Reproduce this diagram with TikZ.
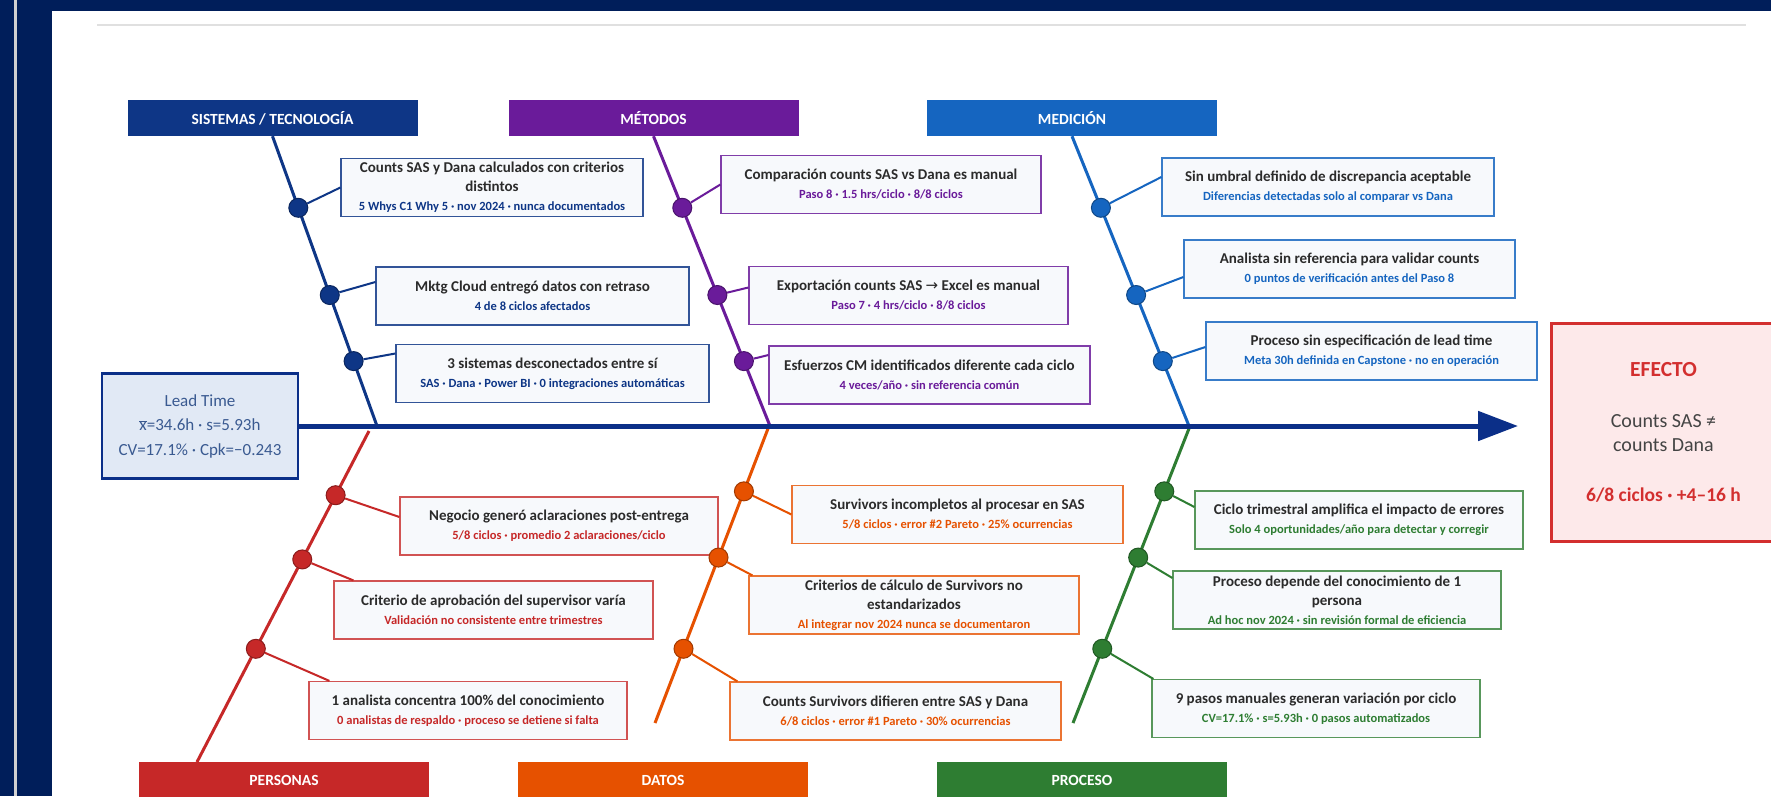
\documentclass[tikz,border=0pt]{standalone}
\usepackage{fontspec}
\setmainfont{Carlito}
\newfontfamily\arrowfont{DejaVu Sans}
\usetikzlibrary{arrows.meta,calc}

\definecolor{framenavy}{HTML}{001E5A}
\definecolor{sisC}{HTML}{0E3686}
\definecolor{metC}{HTML}{6A1B9A}
\definecolor{medC}{HTML}{1565C0}
\definecolor{perC}{HTML}{C62828}
\definecolor{datC}{HTML}{E65100}
\definecolor{proC}{HTML}{2E7D32}
\definecolor{spineC}{HTML}{0B2F88}
\definecolor{boxfill}{HTML}{F7F9FC}
\definecolor{maintext}{HTML}{2B2B2B}
\definecolor{leadfill}{HTML}{E1E9F5}
\definecolor{leadtext}{HTML}{3A5A91}
\definecolor{effill}{HTML}{FDE9EA}
\definecolor{efred}{HTML}{D32F2F}
\definecolor{eftext}{HTML}{444444}

\tikzstyle{header} = [minimum width=290pt, minimum height=36pt, inner sep=0pt, text=white, font=\bfseries\fontsize{15.5}{17}\selectfont]
\tikzstyle{cause} = [draw, line width=1.2pt, fill=boxfill, minimum height=58pt, inner sep=2pt, align=center, text=maintext, font=\bfseries\fontsize{15}{19}\selectfont]
\tikzstyle{bone} = [line width=3pt]
\tikzstyle{twig} = [line width=2pt]
\tikzstyle{knot} = [circle, minimum size=19pt, inner sep=0pt, line width=1pt]
\tikzstyle{spine} = [line width=5pt, draw=spineC, -{Triangle[length=40pt,width=29pt]}]

\newcommand{\detail}[2]{{\color{#1}\fontsize{12.5}{19}\selectfont #2}}
\newcommand{\xbar}{$\overline{\hbox{x}}$}

\begin{document}
\begin{tikzpicture}[x=1pt,y=-1pt]
\useasboundingbox (0,0) rectangle (1771,796);

% Frame
\fill[framenavy] (0,0) rectangle (1771,796);
\fill[white] (52,11) rectangle (1771,796);
\draw[line width=3pt, color=black!18] (15,0) -- (15,796);
\draw[line width=2.5pt, color=black!12] (97,25) -- (1746,25);

% Headers
\node[header, fill=sisC] (sish) at (272.5,118) {SISTEMAS / TECNOLOGÍA};
\node[header, fill=metC] (meth) at (653.5,118) {MÉTODOS};
\node[header, fill=medC] (medh) at (1072,118) {MEDICIÓN};
\node[header, fill=perC] (perh) at (284,780) {PERSONAS};
\node[header, fill=datC] (dath) at (663,780) {DATOS};
\node[header, fill=proC] (proh) at (1082,780) {PROCESO};

% Bone ends
\coordinate (siss) at (377,426);
\coordinate (mets) at (770,426);
\coordinate (meds) at (1189,426);
\coordinate (pers) at (369,431);
\coordinate (pere) at (197,762);
\coordinate (dats) at (769,426);
\coordinate (date) at (655,723);
\coordinate (pros) at (1190,426);
\coordinate (proe) at (1073,723);
\coordinate (tip) at (1518,426);

% Bones
\draw[bone, sisC] (sish.south) -- (siss);
\draw[bone, metC] (meth.south) -- (mets);
\draw[bone, medC] (medh.south) -- (meds);
\draw[bone, perC] (pers) -- (pere);
\draw[bone, datC] (dats) -- (date);
\draw[bone, proC] (pros) -- (proe);

% Lead time and spine
\node[draw=spineC, line width=2.5pt, fill=leadfill, minimum width=196pt, minimum height=105pt, align=center, text=leadtext, font=\fontsize{17}{24.5}\selectfont] (lead) at (200,426) {Lead Time\\\xbar=34.6h · s=5.93h\\CV=17.1\% · Cpk=−0.243};
\draw[spine] (lead.east) -- (tip);

% Effect
\node[draw=efred, line width=3pt, fill=effill, minimum width=225pt, minimum height=218pt, align=center, text=eftext, font=\fontsize{20}{24}\selectfont] (efecto) at (1663.5,432) {{\color{efred}\bfseries\fontsize{21.5}{24}\selectfont EFECTO}\\[27pt]Counts SAS ≠\\counts Dana\\[26pt]{\color{efred}\bfseries\fontsize{19.5}{24}\selectfont 6/8 ciclos · +4–16 h}};

% Sistemas / tecnologia
\node[cause, draw=sisC!85!white, minimum width=302pt] (s1) at (492,187.5) {Counts SAS y Dana calculados con criterios\\distintos\\\detail{sisC}{5 Whys C1 Why 5 · nov 2024 · nunca documentados}};
\node[cause, draw=sisC!85!white, minimum width=313pt] (s2) at (532.5,296) {Mktg Cloud entregó datos con retraso\\\detail{sisC}{4 de 8 ciclos afectados}};
\node[cause, draw=sisC!85!white, minimum width=313pt] (s3) at (552.5,373.5) {3 sistemas desconectados entre sí\\\detail{sisC}{SAS · Dana · Power BI · 0 integraciones automáticas}};

% Metodos
\node[cause, draw=metC!85!white, minimum width=320pt] (m1) at (881,184.5) {Comparación counts SAS vs Dana es manual\\\detail{metC}{Paso 8 · 1.5 hrs/ciclo · 8/8 ciclos}};
\node[cause, draw=metC!85!white, minimum width=319pt] (m2) at (908.5,295.5) {Exportación counts SAS {\arrowfont\mdseries →} Excel es manual\\\detail{metC}{Paso 7 · 4 hrs/ciclo · 8/8 ciclos}};
\node[cause, draw=metC!85!white, minimum width=321pt] (m3) at (929.5,375) {Esfuerzos CM identificados diferente cada ciclo\\\detail{metC}{4 veces/año · sin referencia común}};

% Medicion
\node[cause, draw=medC!85!white, minimum width=332pt] (e1) at (1328,187) {Sin umbral definido de discrepancia aceptable\\\detail{medC}{Diferencias detectadas solo al comparar vs Dana}};
\node[cause, draw=medC!85!white, minimum width=331pt] (e2) at (1349.5,269) {Analista sin referencia para validar counts\\\detail{medC}{0 puntos de verificación antes del Paso 8}};
\node[cause, draw=medC!85!white, minimum width=331pt] (e3) at (1371.5,351) {Proceso sin especificación de lead time\\\detail{medC}{Meta 30h definida en Capstone · no en operación}};

% Personas
\node[cause, draw=perC!80!white, minimum width=318pt] (p1) at (559,526) {Negocio generó aclaraciones post-entrega\\\detail{perC}{5/8 ciclos · promedio 2 aclaraciones/ciclo}};
\node[cause, draw=perC!80!white, minimum width=319pt] (p2) at (493.5,610) {Criterio de aprobación del supervisor varía\\\detail{perC}{Validación no consistente entre trimestres}};
\node[cause, draw=perC!80!white, minimum width=318pt] (p3) at (468,710.5) {1 analista concentra 100\% del conocimiento\\\detail{perC}{0 analistas de respaldo · proceso se detiene si falta}};

% Datos
\node[cause, draw=datC!80!white, minimum width=331pt] (a1) at (957.5,514.5) {Survivors incompletos al procesar en SAS\\\detail{datC}{5/8 ciclos · error \#2 Pareto · 25\% ocurrencias}};
\node[cause, draw=datC!80!white, minimum width=330pt] (a2) at (914,605) {Criterios de cálculo de Survivors no\\estandarizados\\\detail{datC}{Al integrar nov 2024 nunca se documentaron}};
\node[cause, draw=datC!80!white, minimum width=331pt] (a3) at (895.5,711) {Counts Survivors difieren entre SAS y Dana\\\detail{datC}{6/8 ciclos · error \#1 Pareto · 30\% ocurrencias}};

% Proceso
\node[cause, draw=proC!80!white, minimum width=328pt] (r1) at (1359,520) {Ciclo trimestral amplifica el impacto de errores\\\detail{proC}{Solo 4 oportunidades/año para detectar y corregir}};
\node[cause, draw=proC!80!white, minimum width=328pt] (r2) at (1337,600) {Proceso depende del conocimiento de 1\\persona\\\detail{proC}{Ad hoc nov 2024 · sin revisión formal de eficiencia}};
\node[cause, draw=proC!80!white, minimum width=328pt] (r3) at (1316,708.5) {9 pasos manuales generan variación por ciclo\\\detail{proC}{CV=17.1\% · s=5.93h · 0 pasos automatizados}};

% Dots on bones
\node[knot, fill=sisC, draw=sisC!70!black] (sd1) at ($(sish.south)!0.247!(siss)$) {};
\node[knot, fill=sisC, draw=sisC!70!black] (sd2) at ($(sish.south)!0.548!(siss)$) {};
\node[knot, fill=sisC, draw=sisC!70!black] (sd3) at ($(sish.south)!0.776!(siss)$) {};
\node[knot, fill=metC, draw=metC!70!black] (md1) at ($(meth.south)!0.247!(mets)$) {};
\node[knot, fill=metC, draw=metC!70!black] (md2) at ($(meth.south)!0.548!(mets)$) {};
\node[knot, fill=metC, draw=metC!70!black] (md3) at ($(meth.south)!0.776!(mets)$) {};
\node[knot, fill=medC, draw=medC!70!black] (ed1) at ($(medh.south)!0.247!(meds)$) {};
\node[knot, fill=medC, draw=medC!70!black] (ed2) at ($(medh.south)!0.548!(meds)$) {};
\node[knot, fill=medC, draw=medC!70!black] (ed3) at ($(medh.south)!0.776!(meds)$) {};
\node[knot, fill=perC, draw=perC!70!black] (pd1) at ($(pers)!0.194!(pere)$) {};
\node[knot, fill=perC, draw=perC!70!black] (pd2) at ($(pers)!0.388!(pere)$) {};
\node[knot, fill=perC, draw=perC!70!black] (pd3) at ($(pers)!0.658!(pere)$) {};
\node[knot, fill=datC, draw=datC!70!black] (ad1) at ($(dats)!0.22!(date)$) {};
\node[knot, fill=datC, draw=datC!70!black] (ad2) at ($(dats)!0.443!(date)$) {};
\node[knot, fill=datC, draw=datC!70!black] (ad3) at ($(dats)!0.75!(date)$) {};
\node[knot, fill=proC, draw=proC!70!black] (rd1) at ($(pros)!0.22!(proe)$) {};
\node[knot, fill=proC, draw=proC!70!black] (rd2) at ($(pros)!0.443!(proe)$) {};
\node[knot, fill=proC, draw=proC!70!black] (rd3) at ($(pros)!0.75!(proe)$) {};

% Connectors
\draw[twig, sisC] (sd1) -- (s1.west);
\draw[twig, sisC] (sd2) -- ([yshift=14pt]s2.west);
\draw[twig, sisC] (sd3) -- ([yshift=20pt]s3.west);
\draw[twig, metC] (md1) -- (m1.west);
\draw[twig, metC] (md2) -- ([yshift=8pt]m2.west);
\draw[twig, metC] (md3) -- ([yshift=20pt]m3.west);
\draw[twig, medC] (ed1) -- ([yshift=10pt]e1.west);
\draw[twig, medC] (ed2) -- ([yshift=-8pt]e2.west);
\draw[twig, medC] (ed3) -- ([yshift=4pt]e3.west);
\draw[twig, perC] (pd1) -- ([yshift=9pt]p1.west);
\draw[twig, perC] (pd2) -- ([xshift=20pt]p2.north west);
\draw[twig, perC] (pd3) -- ([xshift=21pt]p3.north west);
\draw[twig, datC] (ad1) -- (a1.west);
\draw[twig, datC] (ad2) -- ([xshift=4pt]a2.north west);
\draw[twig, datC] (ad3) -- ([xshift=8pt]a3.north west);
\draw[twig, proC] (rd1) -- ([yshift=13pt]r1.west);
\draw[twig, proC] (rd2) -- ([yshift=22pt]r2.west);
\draw[twig, proC] (rd3) -- ([xshift=2pt]r3.north west);

\end{tikzpicture}
\end{document}
